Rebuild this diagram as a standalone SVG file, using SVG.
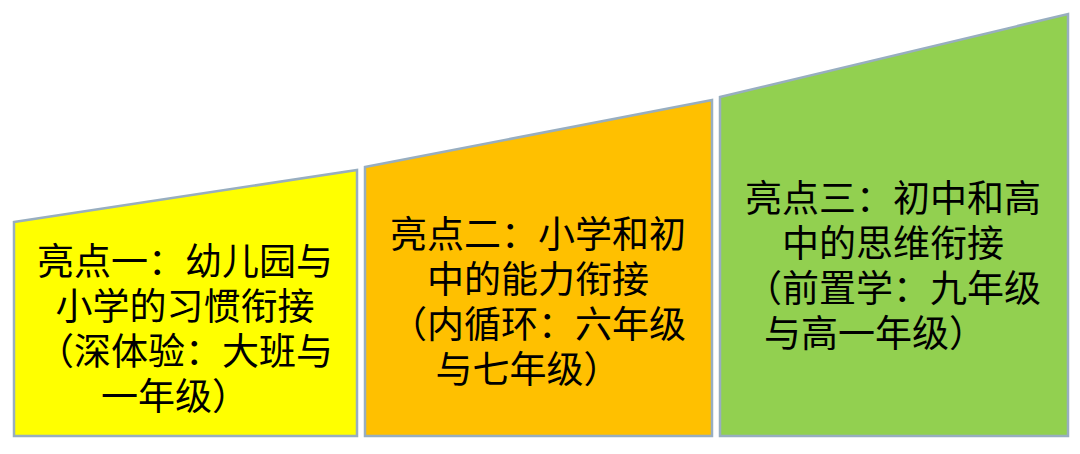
<svg xmlns="http://www.w3.org/2000/svg" width="1080" height="454" viewBox="0 0 1080 454">
<style>
.b{stroke:#98aec0;stroke-width:2.5}
text{font-family:"Noto Sans CJK SC",sans-serif;font-size:37px;fill:#000;text-anchor:middle}
</style>
<rect width="1080" height="454" fill="#fff"/>
<g id="n1"><polygon class="b" fill="#ffff00" points="14,222 357,170 357,436 14,436"/>
<text x="185" y="275">亮点一：幼儿园与</text><text x="185" y="320">小学的习惯衔接</text><text x="185" y="365">（深体验：大班与</text><text x="175" y="410">一年级）</text></g>
<g id="n2"><polygon class="b" fill="#ffc000" points="365,167 712,100 712,436 365,436"/>
<text x="538" y="248">亮点二：小学和初</text><text x="538" y="293">中的能力衔接</text><text x="538" y="338">（内循环：六年级</text><text x="528" y="383">与七年级）</text></g>
<g id="n3"><polygon class="b" fill="#92d050" points="720,97 1068,14 1068,436 720,436"/>
<text x="893" y="212">亮点三：初中和高</text><text x="893" y="257">中的思维衔接</text><text x="893" y="302">（前置学：九年级</text><text x="875" y="347">与高一年级）</text></g>
<g id="connectors"/>
</svg>
